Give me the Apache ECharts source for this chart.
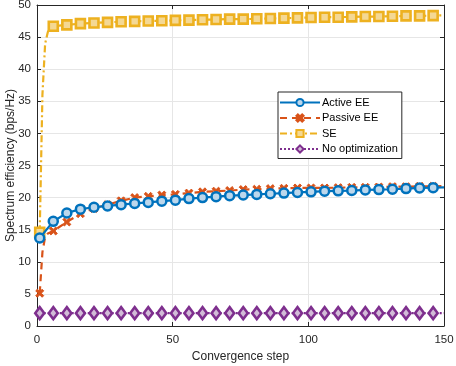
<!DOCTYPE html>
<html><head><meta charset="utf-8">
<script src="https://cdn.jsdelivr.net/npm/echarts@6/dist/echarts.min.js"></script>
<style>html,body{margin:0;padding:0;background:#fff}#c{width:456px;height:366px}</style>
</head><body><div id="c"></div>
<script>
// Marker steps (every 5 iterations) and final step
const steps = [1,6,11,16,21,26,31,36,41,46,51,56,61,66,71,76,81,86,91,96,101,106,111,116,121,126,131,136,141,146];
const lastStep = 150;
// Active EE
const activeEE = [13.7,16.3,17.6,18.2,18.5,18.7,18.9,19.1,19.25,19.45,19.6,19.85,20.0,20.15,20.3,20.4,20.5,20.6,20.7,20.8,20.9,21.0,21.05,21.1,21.2,21.25,21.3,21.4,21.5,21.55];
const activeEELast = 21.6;
// Passive EE
const passiveEE = [5.1,14.8,16.2,17.5,18.3,18.9,19.5,20.0,20.2,20.4,20.5,20.7,20.9,21.0,21.1,21.25,21.3,21.4,21.45,21.5,21.5,21.5,21.55,21.6,21.6,21.65,21.7,21.7,21.75,21.75];
const passiveEELast = 21.8;
const passiveEarlySteps = [2,3,4,5];
const passiveEarly = [11.5,13.9,14.4,14.6];
// SE
const se = [14.6,46.7,46.9,47.1,47.2,47.3,47.4,47.45,47.5,47.55,47.6,47.65,47.7,47.75,47.8,47.8,47.85,47.9,47.95,48.0,48.05,48.1,48.1,48.15,48.2,48.2,48.25,48.3,48.3,48.35];
const seLast = 48.4;
const seEarlySteps = [2,3,4,5];
const seEarly = [36,44,45.8,46.4];
// No optimization
const noOpt = [2.0,2.0,2.0,2.0,2.0,2.0,2.0,2.0,2.0,2.0,2.0,2.0,2.0,2.0,2.0,2.0,2.0,2.0,2.0,2.0,2.0,2.0,2.0,2.0,2.0,2.0,2.0,2.0,2.0,2.0];
const noOptLast = 2.0;
// Axis ticks
const xTicks = [0,50,100,150];
const yTicks = [0,5,10,15,20,25,30,35,40,45,50];

function build(vals, last, earlySteps, earlyVals) {
  const pts = [];
  steps.forEach((s, i) => pts.push({value: [s, vals[i]]}));
  if (earlySteps) earlySteps.forEach((s, i) => pts.push({value: [s, earlyVals[i]], symbol: 'none'}));
  pts.push({value: [lastStep, last], symbol: 'none'});
  pts.sort((a, b) => a.value[0] - b.value[0]);
  return pts;
}

const FONT = 'Liberation Sans, Arial, Helvetica, sans-serif';
const TXT = '#262626';
const xPath = 'path://M0,2 L2,0 L5,3 L8,0 L10,2 L7,5 L10,8 L8,10 L5,7 L2,10 L0,8 L3,5 Z';

const chart = echarts.init(document.getElementById('c'), null, {renderer: 'canvas'});
const axisCommon = {
  axisLine: {show: true, onZero: false, lineStyle: {color: '#262626', width: 1}},
  axisTick: {show: true, inside: true, length: 4, lineStyle: {color: '#262626'}},
};
chart.setOption({
  animation: false,
  backgroundColor: '#fff',
  grid: {left: 37, right: 12, top: 5, bottom: 40, containLabel: false, outerBoundsMode: 'none'},
  xAxis: [
    Object.assign({type: 'value', min: xTicks[0], max: xTicks[xTicks.length-1], interval: 50,
      name: 'Convergence step', nameLocation: 'middle', nameGap: 25, nameMoveOverlap: false,
      nameTextStyle: {color: TXT, fontSize: 12, fontFamily: FONT},
      axisLabel: {color: TXT, fontSize: 11.5, fontFamily: FONT, margin: 8},
      splitLine: {show: true, lineStyle: {color: '#e6e6e6', width: 1}}}, axisCommon),
    Object.assign({type: 'value', position: 'top', min: 0, max: 150, interval: 50,
      axisLabel: {show: false}, splitLine: {show: false}}, axisCommon)
  ],
  yAxis: [
    Object.assign({type: 'value', min: yTicks[0], max: yTicks[yTicks.length-1], interval: 5,
      name: 'Spectrum efficiency (bps/Hz)', nameLocation: 'middle', nameGap: 20, nameMoveOverlap: false,
      nameTextStyle: {color: TXT, fontSize: 12, fontFamily: FONT},
      axisLabel: {color: TXT, fontSize: 11.5, fontFamily: FONT, margin: 6},
      splitLine: {show: true, lineStyle: {color: '#e6e6e6', width: 1}}}, axisCommon),
    Object.assign({type: 'value', position: 'right', min: 0, max: 50, interval: 5,
      axisLabel: {show: false}, splitLine: {show: false}}, axisCommon)
  ],
  legend: {
    orient: 'vertical', left: 278, top: 92,
    itemWidth: 40, itemHeight: 9, itemGap: 4.5,
    padding: [5, 4, 4, 1],
    backgroundColor: '#fff', borderColor: '#262626', borderWidth: 1,
    textStyle: {color: '#000', fontSize: 11, fontFamily: FONT, padding: [0,0,0,-3]},
    data: ['Active EE', 'Passive EE', 'SE', 'No optimization']
  },
  series: [
    {name: 'Active EE', type: 'line', data: build(activeEE, activeEELast),
      symbol: 'circle', symbolSize: 9, z: 4,
      lineStyle: {color: '#0072BD', width: 2.2, type: 'solid'},
      itemStyle: {color: '#bcd7ec', borderColor: '#0072BD', borderWidth: 2.5}},
    {name: 'Passive EE', type: 'line', data: build(passiveEE, passiveEELast, passiveEarlySteps, passiveEarly),
      symbol: xPath, symbolSize: 8, z: 3,
      lineStyle: {color: '#D95319', width: 2.2, type: [7, 5]},
      itemStyle: {color: '#D95319', borderColor: '#D95319', borderWidth: 1}},
    {name: 'SE', type: 'line', data: build(se, seLast, seEarlySteps, seEarly),
      symbol: 'rect', symbolSize: 9, z: 3,
      lineStyle: {color: '#EDB120', width: 2.2, type: [7, 3, 2, 3]},
      itemStyle: {color: '#f4d894', borderColor: '#EDB120', borderWidth: 2.6}},
    {name: 'No optimization', type: 'line', data: build(noOpt, noOptLast),
      symbol: 'diamond', symbolSize: [9, 12], z: 3,
      lineStyle: {color: '#7E2F8E', width: 2.2, type: [2, 2]},
      itemStyle: {color: '#d2bcd7', borderColor: '#7E2F8E', borderWidth: 2.6}}
  ]
});
</script></body></html>
